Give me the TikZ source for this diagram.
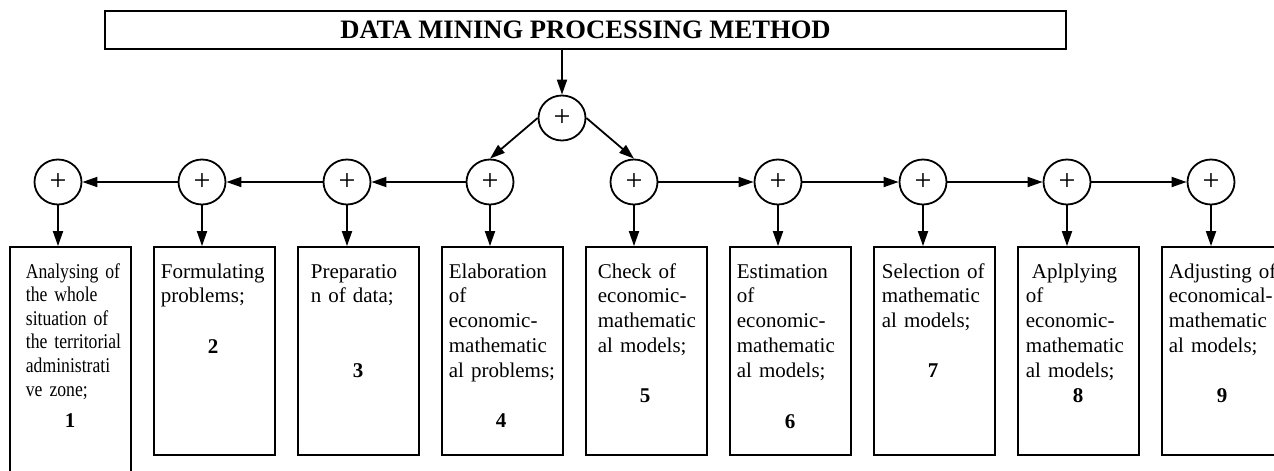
\documentclass[tikz,border=0pt]{standalone}
\usepackage{fontspec}
\setmainfont{Liberation Serif}
\newfontfamily\condserif[FakeStretch=0.84]{Liberation Serif}
\usetikzlibrary{arrows.meta,shapes.geometric}
\begin{document}
\begin{tikzpicture}[x=1pt,y=-1pt,line width=1.8pt,
  arr/.style={-{Triangle[length=15pt,width=10pt]}},
  sumnode/.style={draw,ellipse,minimum width=47pt,minimum height=45pt,inner sep=0pt,font=\fontsize{30}{30}\selectfont},
  stepbox/.style={draw,rectangle,minimum width=121pt,inner sep=0pt},
  boxtext/.style={anchor=base west,inner sep=0pt,text width=200pt,align=left,font=\fontsize{21}{24.8}\selectfont},
  condtext/.style={boxtext,font=\condserif\fontsize{21}{23.6}\selectfont},
  numlabel/.style={anchor=base,inner sep=0pt,font=\fontsize{21}{21}\selectfont\bfseries},
  titlebox/.style={draw,rectangle,minimum width=961pt,minimum height=38pt,inner sep=0pt,font=\fontsize{26.6}{30}\selectfont\bfseries}]
\useasboundingbox (0,0) rectangle (1274,471);
\clip (0,0) rectangle (1274,471);

% title
\node[titlebox] (title) at (585.5,30) {DATA MINING PROCESSING METHOD};

% summing circles
\node[sumnode] (top) at (562,118) {+};
\node[sumnode] (c1) at (58,182) {+};
\node[sumnode] (c2) at (202,182) {+};
\node[sumnode] (c3) at (347,182) {+};
\node[sumnode] (c4) at (490,182) {+};
\node[sumnode] (c5) at (634,182) {+};
\node[sumnode] (c6) at (778,182) {+};
\node[sumnode] (c7) at (923,182) {+};
\node[sumnode] (c8) at (1067,182) {+};
\node[sumnode] (c9) at (1211,182) {+};

% boxes
\node[stepbox,minimum height=243pt] (b1) at (70.5,368.5) {};
\node[stepbox,minimum height=208pt] (b2) at (214.5,351) {};
\node[stepbox,minimum height=208pt] (b3) at (358.5,351) {};
\node[stepbox,minimum height=208pt] (b4) at (502.5,351) {};
\node[stepbox,minimum height=208pt] (b5) at (646.5,351) {};
\node[stepbox,minimum height=208pt] (b6) at (790.5,351) {};
\node[stepbox,minimum height=208pt] (b7) at (934.5,351) {};
\node[stepbox,minimum height=208pt] (b8) at (1078.5,351) {};
\node[stepbox,minimum height=208pt] (b9) at (1222.5,351) {};

% box texts
\node[condtext] (t1) at (25,278) {Analysing of\\the whole\\situation of\\the territorial\\administrati\\ve zone;};
\node[boxtext] (t2) at (160,278) {Formulating\\problems;};
\node[boxtext] (t3) at (310,278) {Preparatio\\n of data;};
\node[boxtext] (t4) at (448,278) {Elaboration\\of\\economic-\\mathematic\\al problems;};
\node[boxtext] (t5) at (597,278) {Check of\\economic-\\mathematic\\al models;};
\node[boxtext] (t6) at (736,278) {Estimation\\of\\economic-\\mathematic\\al models;};
\node[boxtext] (t7) at (881,278) {Selection of\\mathematic\\al models;};
\node[boxtext] (t8) at (1025,278) {\hspace*{6pt}Aplplying\\of\\economic-\\mathematic\\al models;};
\node[boxtext] (t9) at (1168,278) {Adjusting of\\economical-\\mathematic\\al models;};

% numbers
\node[numlabel] (n1) at (70,427) {1};
\node[numlabel] (n2) at (213,353) {2};
\node[numlabel] (n3) at (358,377) {3};
\node[numlabel] (n4) at (501,427) {4};
\node[numlabel] (n5) at (645,402) {5};
\node[numlabel] (n6) at (790,428) {6};
\node[numlabel] (n7) at (933,377) {7};
\node[numlabel] (n8) at (1078,402) {8};
\node[numlabel] (n9) at (1222,402) {9};

% connectors
\draw[arr] (title.south -| top.center) -- (top);
\draw[arr] (top.west) -- (c4.north);
\draw[arr] (top.east) -- (c5.north);
\draw[arr] (c4) -- (c3);
\draw[arr] (c3) -- (c2);
\draw[arr] (c2) -- (c1);
\draw[arr] (c5) -- (c6);
\draw[arr] (c6) -- (c7);
\draw[arr] (c7) -- (c8);
\draw[arr] (c8) -- (c9);
\foreach \i in {1,...,9} {
  \draw[arr] (c\i) -- (c\i |- b\i.north);
}
\end{tikzpicture}
\end{document}
